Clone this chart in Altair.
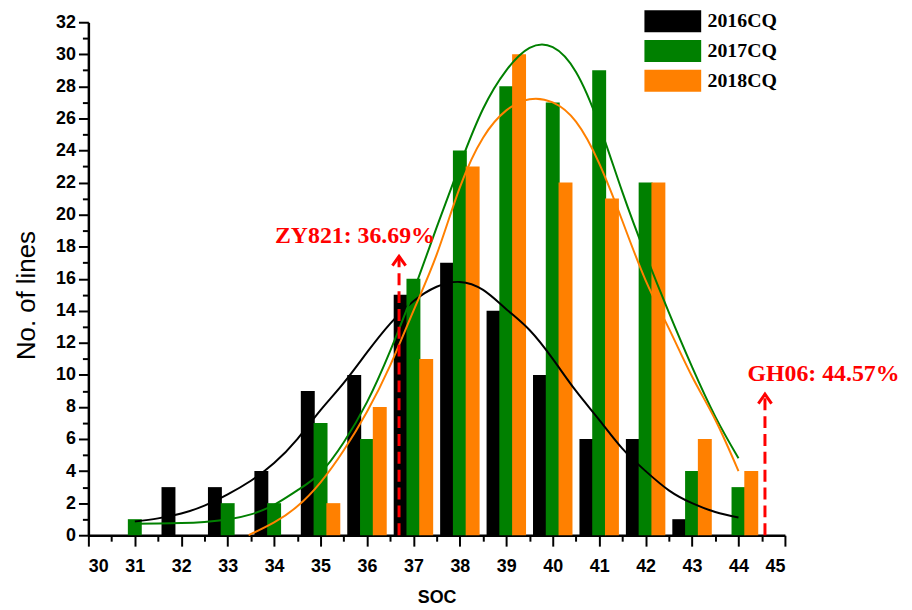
import altair as alt
import pandas as pd

# ---- data ----
soc = [31, 32, 33, 34, 35, 36, 37, 38, 39, 40, 41, 42, 43, 44]
series = ["2016CQ", "2017CQ", "2018CQ"]
cnt_2016 = [0, 3, 3, 4, 9, 10, 15, 17, 14, 10, 6, 6, 1, 0]
cnt_2017 = [1, 0, 2, 2, 7, 6, 16, 24, 28, 27, 29, 22, 4, 3]
cnt_2018 = [0, 0, 0, 0, 2, 8, 11, 23, 30, 22, 21, 22, 6, 4]
colors = ["#000000", "#008000", "#ff8000"]

# fitted curves
fit_x = [31, 31.5, 32, 32.5, 33, 33.5, 34, 34.5, 35, 35.5, 36, 36.5, 37, 37.5,
         38, 38.5, 39, 39.5, 40, 40.5, 41, 41.5, 42, 42.5, 43, 43.5, 44]
fit_2016 = [0.85, 1.05, 1.35, 1.85, 2.55, 3.4, 4.5, 6.0, 7.8, 9.5, 11.4, 13.2, 14.6, 15.5,
            15.8, 15.3, 14.1, 12.8, 11.0, 9.0, 7.2, 5.4, 4.0, 2.8, 2.0, 1.45, 1.1]
fit_2017 = [0.72, 0.73, 0.76, 0.83, 0.98, 1.3, 1.9, 2.8, 3.9, 5.8, 8.3, 11.5, 15.2, 19.2,
            23.1, 26.6, 29.0, 30.4, 30.45, 28.9, 25.6, 21.4, 17.5, 13.9, 10.5, 7.4, 4.8]
fit_x_2018 = [33.45, 34, 34.5, 35, 35.5, 36, 36.5, 37, 37.5, 38, 38.5, 39, 39.5, 40,
              40.5, 41, 41.5, 42, 42.5, 43, 43.5, 44]
fit_2018 = [0, 0.8, 1.8, 3.3, 5.3, 7.7, 10.6, 14.0, 17.5, 21.7, 24.8, 26.5, 27.2, 27.0,
            25.8, 23.2, 19.6, 15.9, 12.9, 9.9, 7.2, 4.0]

# reference varieties
mark_names = ["ZY821: 36.69%", "GH06: 44.57%"]
mark_soc = [36.69, 44.57]
mark_top = [17.4, 8.8]
label_x = [35.74, 45.83]
label_y = [18.2, 9.6]

x_ticks = [30 + 0.5 * i for i in range(31)]
y_ticks = list(range(0, 33))

# ---- tables ----
bar_rows = []
for name, counts in zip(series, [cnt_2016, cnt_2017, cnt_2018]):
    for s, c in zip(soc, counts):
        bar_rows.append({"series": name, "soc": s, "count": c})
bars_df = pd.DataFrame(bar_rows)

fit_rows = []
for name, xs, ys in zip(series, [fit_x, fit_x, fit_x_2018], [fit_2016, fit_2017, fit_2018]):
    for a, b in zip(xs, ys):
        fit_rows.append({"series": name, "soc": a, "fit": b})
fit_df = pd.DataFrame(fit_rows)

mark_df = pd.DataFrame({"name": mark_names, "soc": mark_soc, "top": mark_top,
                        "lx": label_x, "ly": label_y})

xscale = alt.Scale(domain=[30, 45], nice=False, zero=False)
yscale = alt.Scale(domain=[0, 32], nice=False)

x_axis = alt.Axis(
    title="SOC", values=x_ticks, labelOverlap=False,
    labelExpr="datum.value % 1 === 0 ? format(datum.value, 'd') : ''",
    tickSize={"condition": {"test": "datum.value % 1 === 0", "value": 11}, "value": 6},
    labelPadding=12, titleY=68, titleBaseline="alphabetic",
    titleFontWeight="bold", titleFontSize=18,
)
y_axis = alt.Axis(
    title="No. of lines", values=y_ticks, labelOverlap=False,
    labelExpr="datum.value % 2 === 0 ? format(datum.value, 'd') : ''",
    tickSize={"condition": {"test": "datum.value % 2 === 0", "value": 10}, "value": 6},
    labelPadding=3, titleFontWeight="normal", titleFontSize=26,
    titleX=-54, titleY=275, titleBaseline="alphabetic",
)

shift_expr = ("datum.series == '2016CQ' ? -0.275 : (datum.series == '2018CQ' ? 0.275 : 0)")

bars = alt.Chart(bars_df).transform_calculate(
    x0="datum.soc + (" + shift_expr + ") - 0.15",
    x1="datum.soc + (" + shift_expr + ") + 0.15",
    base="0",
).mark_bar(opacity=1, strokeWidth=0).encode(
    x=alt.X("x0:Q", scale=xscale, axis=x_axis),
    x2="x1:Q",
    y=alt.Y("count:Q", scale=yscale, axis=y_axis),
    y2="base:Q",
    color=alt.Color(
        "series:N",
        scale=alt.Scale(domain=series, range=colors),
        legend=alt.Legend(
            title=None, orient="none", legendX=578, legendY=-12,
            symbolType="M-2.6,-1H2.6V1H-2.6Z", symbolSize=484,
            symbolStrokeWidth=0, symbolOpacity=1,
            labelFont="Liberation Serif", labelFontWeight="bold", labelFontSize=20,
            labelColor="#000000", labelOffset=24, rowPadding=8, padding=0,
        ),
    ),
)

lines = alt.Chart(fit_df).mark_line(strokeWidth=2, interpolate="natural").encode(
    x=alt.X("soc:Q", scale=xscale, axis=x_axis),
    y=alt.Y("fit:Q", scale=yscale, axis=y_axis),
    stroke=alt.Stroke("series:N", scale=alt.Scale(domain=series, range=colors), legend=None),
    detail="series:N",
)

rules = alt.Chart(mark_df).transform_calculate(base="0").mark_rule(
    color="#ff0000", strokeWidth=3, strokeDash=[12, 6]
).encode(
    x=alt.X("soc:Q", scale=xscale, axis=x_axis),
    y=alt.Y("base:Q", scale=yscale, axis=y_axis),
    y2="top:Q",
)

heads = alt.Chart(mark_df).mark_point(
    shape="M-0.7,1L0,0L0.7,1", size=361, filled=False,
    color="#ff0000", strokeWidth=3, opacity=1,
).encode(
    x=alt.X("soc:Q", scale=xscale, axis=x_axis),
    y=alt.Y("top:Q", scale=yscale, axis=y_axis),
)

texts = alt.Chart(mark_df).mark_text(
    font="Liberation Serif", fontWeight="bold", fontSize=24, color="#ff0000",
    align="center", baseline="alphabetic",
).encode(
    x=alt.X("lx:Q", scale=xscale, axis=x_axis),
    y=alt.Y("ly:Q", scale=yscale, axis=y_axis),
    text="name:N",
)

chart = alt.layer(bars, lines, rules, heads, texts).properties(
    width=702, height=517,
    padding={"left": 81, "top": 12, "right": 120, "bottom": 70},
    autosize=alt.AutoSizeParams(type="none"),
).configure_view(stroke=None).configure_axis(
    grid=False, domainColor="#000000", domainWidth=2.5,
    tickColor="#000000", tickWidth=2, labelOverlap=False,
    labelFont="Liberation Sans", labelFontWeight="bold", labelFontSize=18,
    labelColor="#000000", titleFont="Liberation Sans", titleColor="#000000",
)

chart.save("out.html", embed_options={"renderer": "svg", "actions": False})
